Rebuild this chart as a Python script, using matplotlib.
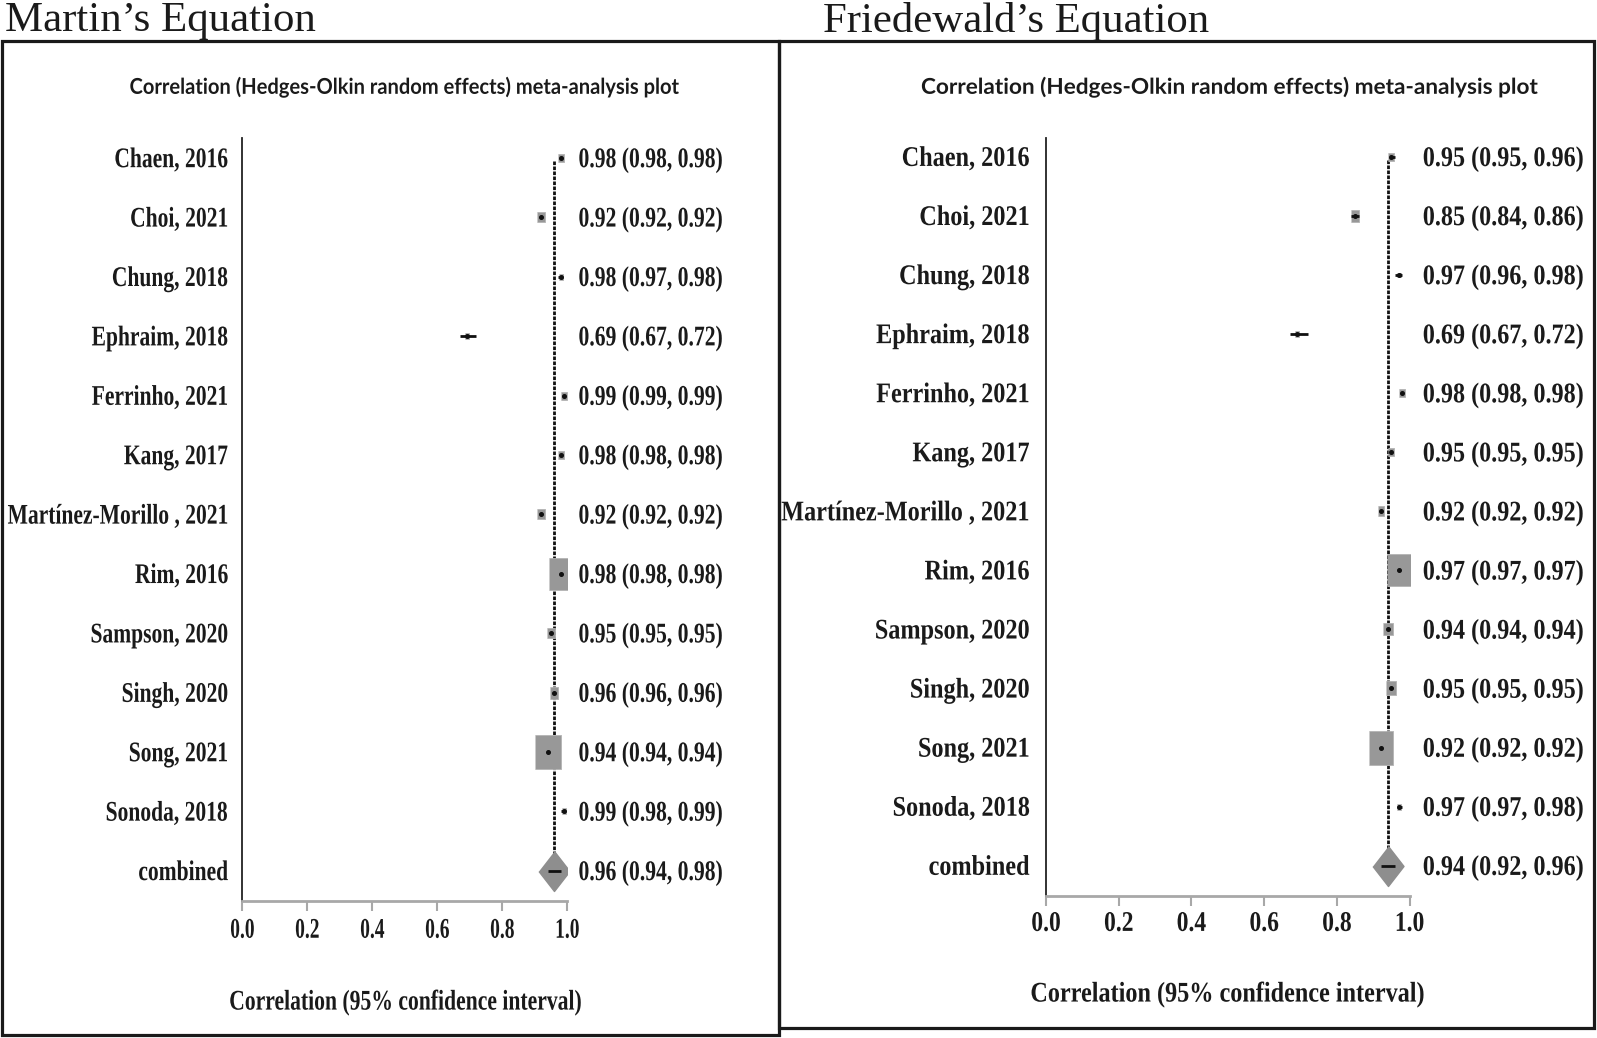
import numpy as np
import matplotlib
matplotlib.use("Agg")
import matplotlib.pyplot as plt
from matplotlib.patches import Rectangle
from matplotlib.font_manager import FontProperties
from matplotlib.patheffects import AbstractPathEffect
from matplotlib.transforms import Affine2D

# ---------------- data ----------------
studies = ["Chaen, 2016", "Choi, 2021", "Chung, 2018", "Ephraim, 2018",
           "Ferrinho, 2021", "Kang, 2017", "Martínez-Morillo , 2021",
           "Rim, 2016", "Sampson, 2020", "Singh, 2020", "Song, 2021",
           "Sonoda, 2018"]
combined_label = "combined"

martin_r = [0.98, 0.92, 0.98, 0.69, 0.99, 0.98, 0.92, 0.98, 0.95, 0.96, 0.94, 0.99]
martin_lo = [0.98, 0.92, 0.97, 0.67, 0.99, 0.98, 0.92, 0.98, 0.95, 0.96, 0.94, 0.98]
martin_hi = [0.98, 0.92, 0.98, 0.72, 0.99, 0.98, 0.92, 0.98, 0.95, 0.96, 0.94, 0.99]
martin_weight = [1.7, 4.1, 1.0, 1.2, 1.7, 2.2, 3.4, 34.9, 4.1, 4.9, 39.5, 1.2]
martin_comb = [0.96, 0.94, 0.98]

fried_r = [0.95, 0.85, 0.97, 0.69, 0.98, 0.95, 0.92, 0.97, 0.94, 0.95, 0.92, 0.97]
fried_lo = [0.95, 0.84, 0.96, 0.67, 0.98, 0.95, 0.92, 0.97, 0.94, 0.95, 0.92, 0.97]
fried_hi = [0.96, 0.86, 0.98, 0.72, 0.98, 0.95, 0.92, 0.97, 0.94, 0.95, 0.92, 0.98]
fried_weight = [1.7, 4.2, 0.6, 1.3, 1.7, 2.2, 2.8, 35.6, 5.0, 5.9, 37.8, 1.3]
fried_comb = [0.94, 0.92, 0.96]

xticks = [0.0, 0.2, 0.4, 0.6, 0.8, 1.0]
panel_titles = ["Martin’s Equation", "Friedewald’s Equation"]
subtitle = "Correlation (Hedges-Olkin random effects) meta-analysis plot"
xlabel = "Correlation (95% confidence interval)"

# ---------------- fonts ----------------
fp_lab = FontProperties(family="Liberation Serif", weight="bold")
fp_sub = FontProperties(family=["Lato", "DejaVu Sans"], weight="bold")
fp_title = FontProperties(family="Liberation Serif")


class VStretch(AbstractPathEffect):
    """Stretch a text vertically about its anchor point (gives a condensed look)."""

    def __init__(self, text, sy=1.0):
        super().__init__()
        self.text = text
        self.sy = sy

    def draw_path(self, renderer, gc, tpath, affine, rgbFace=None):
        y0 = self.text.get_transform().transform(self.text.get_unitless_position())[1]
        aff = affine + Affine2D().translate(0, -y0).scale(1.0, self.sy).translate(0, y0)
        renderer.draw_path(gc, tpath, aff, rgbFace)


W, H = 1597, 1038
fig = plt.figure(figsize=(W / 100, H / 100), dpi=100)


def fx(px):
    return px / W


def fy(py):
    return 1 - py / H


# frames
lw_frame = 2.3
fig.add_artist(Rectangle((fx(2), fy(1035)), fx(779) - fx(2), fy(41) - fy(1035),
                         transform=fig.transFigure, fill=False, lw=lw_frame, ec="#1a1a1a"))
fig.add_artist(Rectangle((fx(779), fy(1028)), fx(1594) - fx(779), fy(41) - fy(1028),
                         transform=fig.transFigure, fill=False, lw=lw_frame, ec="#1a1a1a"))

rect_marker = [(-0.75, -1), (0.75, -1), (0.75, 1), (-0.75, 1)]
diamond_marker = [(0, 1), (0.775, 0), (0, -1), (-0.775, 0)]

LAB_FS = 20.5
SUB_FS = 15.7
TXT_DY = -0.045
cond_groups = []   # (texts, reference text, target width px)
title_groups = []
tick_axes = []


def panel(px_left, px_right, px_top, px_axis, row0, row12, r, lo, hi, wts, comb,
          title, title_x, title_base, title_w, sub_box, xl_box, lab_w, val_w, tick_w,
          lab_x_px, val_x_px, tick_pad):
    unit = (row12 - row0) / 12.0
    ytop = (row0 - px_top) / unit
    ybot = -12 - (px_axis - row12) / unit
    ax = fig.add_axes([fx(px_left), fy(px_axis), fx(px_right) - fx(px_left),
                       fy(px_top) - fy(px_axis)])
    ax.set_xlim(0, 1)
    ax.set_ylim(ybot, ytop)
    ax.patch.set_visible(False)
    for s in ["top", "right"]:
        ax.spines[s].set_visible(False)
    ax.spines["left"].set_color("#222222")
    ax.spines["left"].set_linewidth(1.3)
    ax.spines["bottom"].set_color("#a8a8a8")
    ax.spines["bottom"].set_linewidth(2.0)
    ax.set_yticks([])
    ax.set_xticks(xticks)
    ax.set_xticklabels([f"{t:.1f}" for t in xticks])
    for t in ax.get_xticklabels():
        t.set_fontproperties(fp_lab)
        t.set_fontsize(LAB_FS)
        t.set_color("#1a1a1a")
    ax.tick_params(axis="x", direction="out", length=7.5, width=1.5,
                   color="#a8a8a8", pad=tick_pad)

    ys = -np.arange(len(r))
    heights_px = 5.42 * np.sqrt(np.array(wts))
    # dotted line at combined estimate
    ax.plot([comb[0], comb[0]], [-0.05, -12], color="#111111", lw=2.0,
            ls=(0, (1.3, 0.5)), zorder=1)
    for yy, ri, l, h, hp in zip(ys, r, lo, hi, heights_px):
        ax.plot([ri], [yy], marker=rect_marker, ms=hp * 0.72, mfc="#989898",
                mec="#b4b4b4", mew=0.6, ls="none", zorder=3)
        ax.plot([l, h], [yy, yy], color="#111111", lw=2.0, zorder=4,
                solid_capstyle="butt")
        ax.plot([ri], [yy], marker="o", ms=2.6, color="#111111", ls="none", zorder=5)
    ax.plot([comb[0]], [-12], marker=diamond_marker, ms=40 * 0.72, mfc="#8e8e8e",
            mec="#8e8e8e", ls="none", zorder=3)
    ax.plot([comb[1], comb[2]], [-12, -12], color="#111111", lw=2.0, zorder=4,
            solid_capstyle="butt")

    xlab_data = (lab_x_px - px_left) / (px_right - px_left)
    xval_data = (val_x_px - px_left) / (px_right - px_left)
    labs = []
    vals = []
    names = studies + [combined_label]
    rr = list(r) + [comb[0]]
    ll = list(lo) + [comb[1]]
    hh = list(hi) + [comb[2]]
    for i, nm in enumerate(names):
        t = ax.text(xlab_data, -i + TXT_DY, nm, ha="right", va="center",
                    fontproperties=fp_lab, fontsize=LAB_FS, color="#1a1a1a", clip_on=False)
        labs.append(t)
        v = ax.text(xval_data, -i + TXT_DY, f"{rr[i]:.2f} ({ll[i]:.2f}, {hh[i]:.2f})",
                    ha="left", va="center", fontproperties=fp_lab, fontsize=LAB_FS,
                    color="#1a1a1a", clip_on=False)
        vals.append(v)

    tt = fig.text(fx(title_x), fy(title_base), title, ha="left", va="baseline",
                  fontproperties=fp_title, fontsize=30, color="#1a1a1a")
    st = fig.text(fx((sub_box[0] + sub_box[1]) / 2), fy(sub_box[2]), subtitle,
                  ha="center", va="center", fontproperties=fp_sub, fontsize=SUB_FS,
                  color="#1a1a1a")
    xl = fig.text(fx((xl_box[0] + xl_box[1]) / 2), fy(xl_box[2]), xlabel,
                  ha="center", va="center", fontproperties=fp_lab, fontsize=LAB_FS,
                  color="#1a1a1a")
    title_groups.append((tt, title_w))
    cond_groups.append(([st], st, sub_box[1] - sub_box[0]))
    cond_groups.append(([xl], xl, xl_box[1] - xl_box[0]))
    cond_groups.append((labs, labs[6], lab_w))
    cond_groups.append((vals, vals[0], val_w))
    tick_axes.append((ax, tick_w))


panel(242.4, 567.3, 138.5, 901.4, 157.9, 870.8, martin_r, martin_lo, martin_hi,
      martin_weight, martin_comb, panel_titles[0], 5, 31, 311.0,
      (130.4, 679.3, 87.0), (229.0, 581.5, 1003.0), 221.0, 144.6, 24.4,
      228.1, 578.5, 5.0)
panel(1046.0, 1409.6, 137.5, 896.3, 156.8, 865.7, fried_r, fried_lo, fried_hi,
      fried_weight, fried_comb, panel_titles[1], 823, 32, 387.0,
      (919.7, 1535.9, 87.0), (1030.7, 1424.9, 995.0), 248.6, 161.0, 29.5,
      1029.7, 1422.8, 3.5)

fig.canvas.draw()
renderer = fig.canvas.get_renderer()

for tt, target in title_groups:
    w = tt.get_window_extent(renderer).width
    tt.set_fontsize(tt.get_fontsize() * target / w)


def condense(texts, ref, target):
    # font size chosen so the width matches; height restored by a vertical stretch
    fs0 = ref.get_fontsize()
    w = ref.get_window_extent(renderer).width
    fs = fs0 * target / w
    for t in texts:
        t.set_fontsize(fs)
        t.set_path_effects([VStretch(t, fs0 / fs)])


for texts, ref, target in cond_groups:
    condense(texts, ref, target)

for ax, target in tick_axes:
    lbls = ax.get_xticklabels()
    condense(lbls, lbls[0], target)

fig.savefig("out.png", dpi=100, facecolor="white")
